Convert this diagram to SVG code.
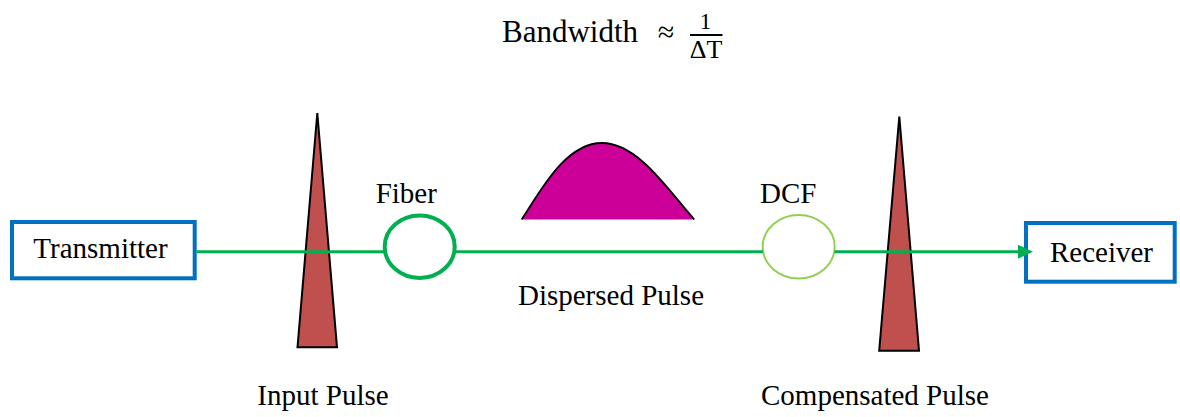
<svg xmlns="http://www.w3.org/2000/svg" width="1180" height="417" viewBox="0 0 1180 417">
  <style>
    .lbl { font-family: "Liberation Serif", "Times New Roman", serif; font-size: 29px; fill: #000; }
    .mid { text-anchor: middle; }
    .box { fill: #fff; stroke: #0070C0; stroke-width: 4; }
    .spike { fill: #C0504D; stroke: #000; stroke-width: 2; stroke-linejoin: miter; }
    .wire { fill: none; stroke: #00B050; stroke-width: 3; }
  </style>
  <defs>
    <marker id="arrow" markerUnits="userSpaceOnUse" markerWidth="16" markerHeight="15" refX="2" refY="7" orient="auto" viewBox="0 0 16 15">
      <polygon points="0,0 15,7 0,14" fill="#00B050"/>
    </marker>
  </defs>

  <rect width="1180" height="417" fill="#fff"/>

  <!-- formula -->
  <g id="formula">
    <text class="lbl" x="502" y="42" style="font-size:31px">Bandwidth</text>
    <text class="lbl mid" x="666" y="42" style="font-size:30px">≈</text>
    <text class="lbl mid" x="705.5" y="28.5" style="font-size:23px">1</text>
    <line x1="690" y1="35" x2="722.5" y2="35" stroke="#000" stroke-width="2.2"/>
    <text class="lbl mid" x="706" y="58.3" style="font-size:26px">ΔT</text>
  </g>

  <!-- input pulse -->
  <g id="input-pulse">
    <polygon class="spike" points="317.3,113 337,347.3 297.5,347.3"/>
    <text class="lbl mid" x="323" y="405">Input Pulse</text>
  </g>

  <!-- compensated pulse -->
  <g id="compensated-pulse">
    <polygon class="spike" points="899.3,116.5 919,350.7 879.2,350.7"/>
    <text class="lbl mid" x="875" y="405">Compensated Pulse</text>
  </g>

  <!-- dispersed pulse -->
  <g id="dispersed-pulse">
    <path d="M521.7,219.5 C540,192 565,143 602,143 C638,143 668,190 694.3,219.5" fill="#CC0099" stroke="#000" stroke-width="1.8"/>
    <text class="lbl mid" x="611" y="305">Dispersed Pulse</text>
  </g>

  <!-- transmitter -->
  <g id="transmitter">
    <rect class="box" x="12" y="222" width="182.7" height="56.3"/>
    <text class="lbl mid" x="100.5" y="258.3">Transmitter</text>
  </g>

  <!-- receiver -->
  <g id="receiver">
    <rect class="box" x="1026" y="223" width="148.7" height="58.7"/>
    <text class="lbl mid" x="1101.5" y="261.7">Receiver</text>
  </g>

  <!-- fiber spool -->
  <g id="fiber">
    <ellipse cx="419.7" cy="246.7" rx="35" ry="31.3" fill="none" stroke="#00B050" stroke-width="4"/>
    <text class="lbl mid" x="406.3" y="203.3">Fiber</text>
  </g>

  <!-- dispersion compensating fiber -->
  <g id="dcf">
    <ellipse cx="798.7" cy="246.7" rx="36" ry="31.8" fill="none" stroke="#92D050" stroke-width="2"/>
    <text class="lbl mid" x="788.3" y="203.3">DCF</text>
  </g>

  <!-- link segments -->
  <g id="connectors">
    <line class="wire" x1="196.5" y1="251.7" x2="385" y2="251.7"/>
    <line class="wire" x1="454.5" y1="251.7" x2="763" y2="251.7"/>
    <line class="wire" x1="834.5" y1="251.7" x2="1020" y2="251.7" marker-end="url(#arrow)"/>
  </g>
</svg>
